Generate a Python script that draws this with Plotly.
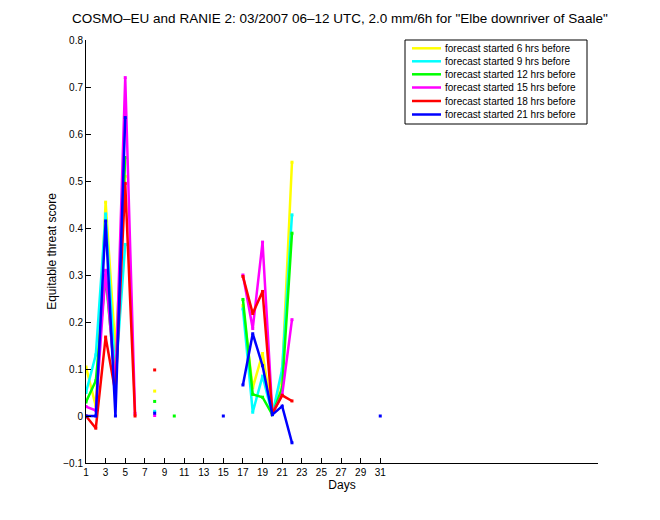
import plotly.graph_objects as go

nan = None
days = list(range(1, 32))

def series(vals):
    out = [nan] * 31
    for d, v in vals.items():
        out[d - 1] = v
    return out

names = ["forecast started 6 hrs before", "forecast started 9 hrs before",
         "forecast started 12 hrs before", "forecast started 15 hrs before",
         "forecast started 18 hrs before", "forecast started 21 hrs before"]
colors = ["#ffff00", "#00ffff", "#00ff00", "#ff00ff", "#ff0000", "#0000ff"]

ets_6h = series({1: 0.104, 2: 0.021, 3: 0.455, 4: 0.14, 5: 0.51, 8: 0.053,
                 17: 0.235, 18: 0.06, 19: 0.133, 20: 0.003, 21: 0.09, 22: 0.54})
ets_9h = series({1: 0.05, 2: 0.13, 3: 0.43, 4: 0.08, 5: 0.365, 8: 0.01,
                 17: 0.228, 18: 0.008, 19: 0.085, 20: 0.003, 21: 0.1, 22: 0.428})
ets_12h = series({1: 0.03, 2: 0.075, 3: 0.298, 4: 0.07, 5: 0.55, 8: 0.031, 10: 0.0,
                  17: 0.248, 18: 0.046, 19: 0.04, 20: 0.003, 21: 0.06, 22: 0.389})
ets_15h = series({1: 0.02, 2: 0.012, 3: 0.31, 4: 0.06, 5: 0.72, 6: 0.005, 8: 0.001,
                  17: 0.30, 18: 0.186, 19: 0.37, 20: 0.006, 21: 0.045, 22: 0.205})
ets_18h = series({1: 0.0, 2: -0.026, 3: 0.168, 4: 0.05, 5: 0.495, 6: 0.0, 8: 0.098,
                  17: 0.297, 18: 0.218, 19: 0.265, 20: 0.005, 21: 0.044, 22: 0.032})
ets_21h = series({1: 0.0, 2: 0.0, 3: 0.415, 4: 0.0, 5: 0.635, 8: 0.006, 15: 0.0,
                  17: 0.066, 18: 0.175, 19: 0.107, 20: 0.003, 21: 0.021, 22: -0.057, 31: 0.0})

all_series = [ets_6h, ets_9h, ets_12h, ets_15h, ets_18h, ets_21h]
x_ticks = list(range(1, 32, 2))
y_ticks = [-0.1, 0, 0.1, 0.2, 0.3, 0.4, 0.5, 0.6, 0.7, 0.8]

fig = go.Figure()
for name, col, ys in zip(names, colors, all_series):
    fig.add_trace(go.Scatter(x=days, y=ys, name=name, mode="lines+markers",
                             line=dict(color=col, width=2.5),
                             marker=dict(color=col, size=3, symbol="square"),
                             connectgaps=False, showlegend=False))

font = "Liberation Sans, Arial, Helvetica, sans-serif"

# custom MATLAB-style legend box (paper coordinates of the plot area)
PL, PW, PB, PH = 86, 512, 463, 423
def px(xp):
    return (xp - PL) / PW
def py(yp):
    return (PB - yp) / PH

shapes = [dict(type="rect", xref="paper", yref="paper",
               x0=px(405), x1=px(587), y0=py(124), y1=py(40),
               line=dict(color="black", width=1), fillcolor="white", layer="above")]
annotations = []
row_y = [48.3, 61.3, 74.3, 87.5, 101, 114.5]
for name, col, ry in zip(names, colors, row_y):
    shapes.append(dict(type="line", xref="paper", yref="paper",
                       x0=px(412), x1=px(441), y0=py(ry), y1=py(ry),
                       line=dict(color=col, width=2.5), layer="above"))
    annotations.append(dict(xref="paper", yref="paper", x=px(443), y=py(ry),
                            xanchor="left", yanchor="middle", showarrow=False,
                            text=name, font=dict(size=10, family=font, color="black")))

fig.update_layout(
    width=660, height=520,
    margin=dict(l=86, r=62, t=40, b=57),
    paper_bgcolor="white", plot_bgcolor="white",
    font=dict(family=font, size=10, color="black"),
    title=dict(text='COSMO\u2013EU and RANIE 2: 03/2007 06\u201312 UTC, 2.0 mm/6h for "Elbe downriver of Saale"',
               x=0.515, xanchor="center", y=0.965, yanchor="middle",
               font=dict(size=13.5, family=font)),
    showlegend=False,
    shapes=shapes,
    annotations=annotations,
    xaxis=dict(range=[1, 53.2], tickmode="array", tickvals=x_ticks,
               ticktext=[str(t) for t in x_ticks],
               ticks="inside", ticklen=5, tickcolor="black",
               showline=True, linecolor="black", linewidth=1,
               showgrid=False, zeroline=False,
               title=dict(text="Days", font=dict(size=12), standoff=2)),
    yaxis=dict(range=[-0.1, 0.8], tickmode="array", tickvals=y_ticks,
               ticktext=["\u22120.1", "0", "0.1", "0.2", "0.3", "0.4", "0.5", "0.6", "0.7", "0.8"],
               ticks="inside", ticklen=5, tickcolor="black",
               showline=True, linecolor="black", linewidth=1,
               showgrid=False, zeroline=False,
               title=dict(text="Equitable threat score", font=dict(size=12), standoff=4)),
)

fig.write_html("out.html")
